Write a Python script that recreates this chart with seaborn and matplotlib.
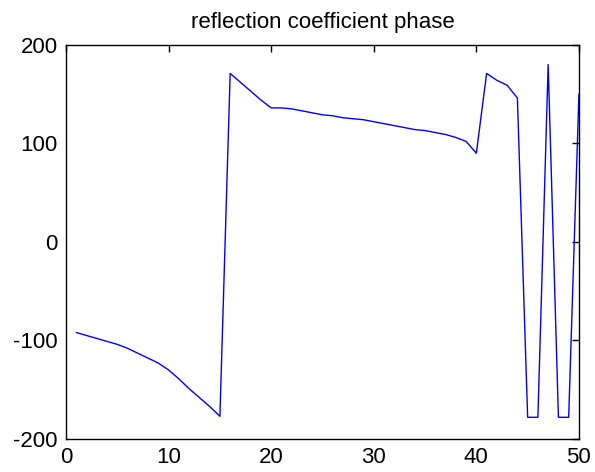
import numpy as np
import pandas as pd
import seaborn as sns
import matplotlib
matplotlib.use("Agg")
import matplotlib.pyplot as plt

# данные
freq_index = list(range(1, 51))
phase_deg = [-92, -95, -98, -101, -104, -108, -113, -118, -123, -130,
             -139, -149, -158, -167, -177, 171, 162, 153, 144, 136,
             136, 135, 133, 131, 129, 128, 126, 125, 124, 122,
             120, 118, 116, 114, 113, 111, 109, 106, 102, 90,
             171, 164, 159, 146, -178, -178, 180, -178, -178, 150]

x_ticks = [0, 10, 20, 30, 40, 50]
y_ticks = [-200, -100, 0, 100, 200]

df = pd.DataFrame({"n": freq_index, "phase": phase_deg})

sns.set_style("white")
plt.rcParams['font.family'] = ['Liberation Sans', 'DejaVu Sans']
plt.rcParams['axes.unicode_minus'] = False

fig = plt.figure(figsize=(5.95, 4.72), dpi=100)
ax = fig.add_axes([0.111, 0.070, 0.862, 0.835])

sns.lineplot(data=df, x="n", y="phase", color="#0000ff", linewidth=1.0, ax=ax)

ax.set_xlim(0, 50)
ax.set_ylim(-200, 200)
ax.set_xticks(x_ticks)
ax.set_yticks(y_ticks)
ax.set_xlabel("")
ax.set_ylabel("")
ax.set_title("reflection coefficient phase", fontsize=16, pad=12, color="black")

# тики внутрь, как в MATLAB
ax.tick_params(direction="in", length=5, width=1, top=True, right=True,
               labelsize=16, colors="black", pad=6)
for side in ["top", "bottom", "left", "right"]:
    ax.spines[side].set_visible(True)
    ax.spines[side].set_color("black")
    ax.spines[side].set_linewidth(1.0)

fig.savefig("out.png", dpi=100)
